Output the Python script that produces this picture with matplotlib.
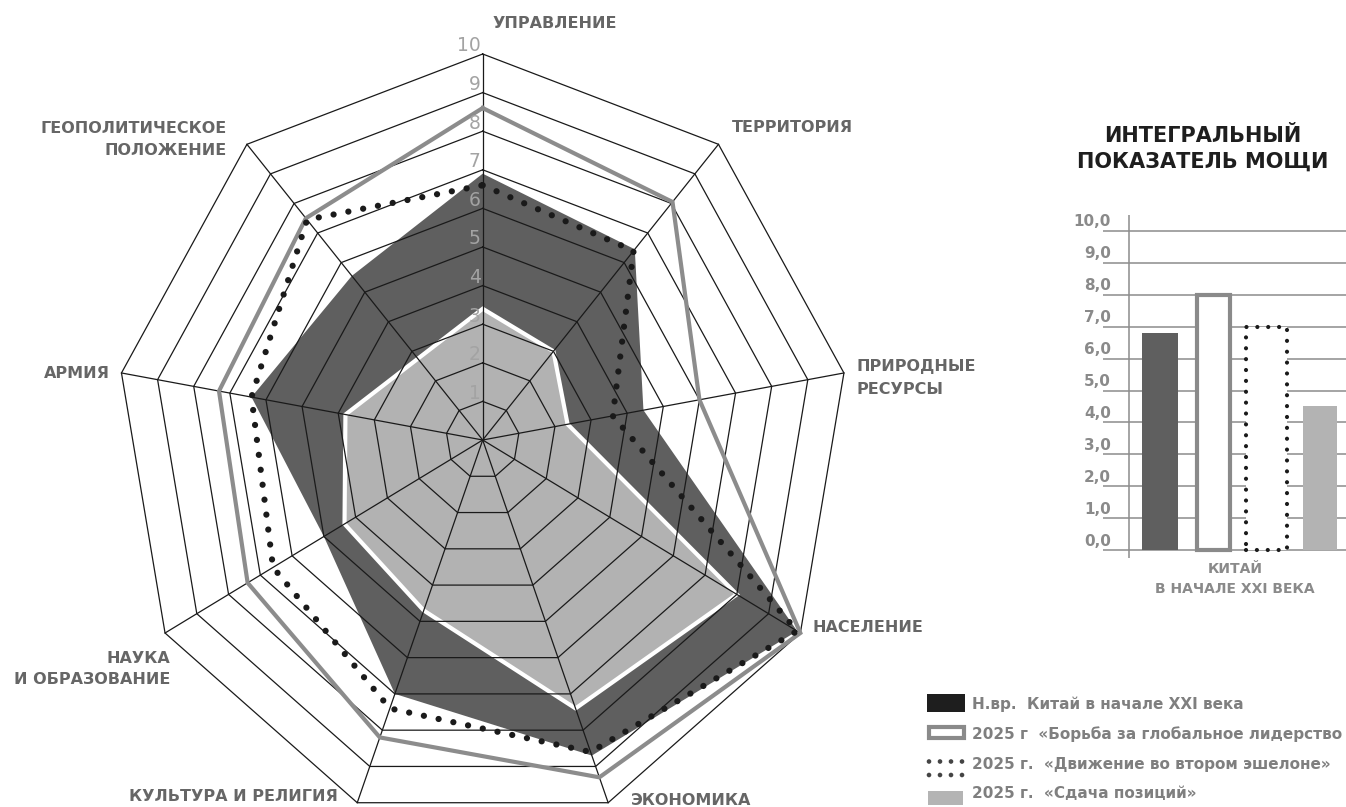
import numpy as np
import matplotlib
matplotlib.use('Agg')
import matplotlib.pyplot as plt
from matplotlib.patches import Rectangle, Circle

plt.rcParams['font.family'] = ['DejaVu Sans']

W, H = 1346, 807

# ---------------- data ----------------
categories = ['УПРАВЛЕНИЕ', 'ТЕРРИТОРИЯ', 'ПРИРОДНЫЕ\nРЕСУРСЫ', 'НАСЕЛЕНИЕ',
              'ЭКОНОМИКА', 'КУЛЬТУРА И РЕЛИГИЯ', 'НАУКА\nИ ОБРАЗОВАНИЕ',
              'АРМИЯ', 'ГЕОПОЛИТИЧЕСКОЕ\nПОЛОЖЕНИЕ']
current = [6.9, 6.45, 4.45, 9.9, 8.7, 7.0, 5.0, 6.4, 5.55]        # Н.вр.
leadership = [8.6, 8.05, 6.0, 10.0, 9.3, 8.2, 7.4, 7.3, 7.5]      # Борьба за глобальное лидерство
second_echelon = [6.6, 6.4, 3.6, 9.9, 8.6, 7.4, 6.6, 6.4, 7.45]   # Движение во втором эшелоне
surrender = [3.4, 3.0, 2.35, 8.0, 7.4, 4.7, 4.35, 3.8, 2.75]      # Сдача позиций
ring_levels = list(range(1, 11))
ring_labels = [str(v) for v in ring_levels]

series_names = ['Н.вр.  Китай в начале XXI века',
                '2025 г  «Борьба за глобальное лидерство',
                '2025 г.  «Движение во втором эшелоне»',
                '2025 г.  «Сдача позиций»']
bar_values = [6.8, 8.0, 7.0, 4.5]
bar_ticks = list(range(0, 11))
bar_tick_labels = [f'{v},0' for v in bar_ticks]
bar_category = 'КИТАЙ\nВ НАЧАЛЕ XXI ВЕКА'
bar_title = 'ИНТЕГРАЛЬНЫЙ\nПОКАЗАТЕЛЬ МОЩИ'

# ---------------- style ----------------
C_DARK = '#5f5f5f'
C_LIGHT = '#b2b2b2'
C_LINE = '#8c8c8c'
C_DOT = '#1a1a1a'
C_GRID = '#1a1a1a'
C_LABEL = '#666666'

fig = plt.figure(figsize=(W / 100, H / 100), dpi=100)
fig.patch.set_facecolor('white')

# ---------------- radar ----------------
cx, cy = 482.7, 440.0      # centre (px from top-left)
rx, ry = 366.8, 386.0      # radius of level 10 (px)
ax = fig.add_axes([(cx - rx) / W, 1 - (cy + ry) / H, 2 * rx / W, 2 * ry / H],
                  projection='polar')
ax.set_theta_zero_location('N')
ax.set_theta_direction(-1)
ax.set_ylim(0, 10)
ax.set_aspect('auto')
ax.set_axis_off()

n = len(categories)
theta = np.linspace(0, 2 * np.pi, n, endpoint=False)
theta_c = np.append(theta, theta[0])


def closed(v):
    return np.append(v, v[0])


ax.fill(theta_c, closed(current), color=C_DARK, lw=0, zorder=1, clip_on=False)
ax.fill(theta_c, closed(surrender), fc=C_LIGHT, ec='white', lw=3,
        joinstyle='miter', zorder=2, clip_on=False)

for lvl in ring_levels:
    ax.plot(theta_c, [lvl] * (n + 1), color=C_GRID, lw=0.9, zorder=3,
            clip_on=False, solid_joinstyle='miter')
for t in theta:
    ax.plot([t, t], [0, ring_levels[-1]], color=C_GRID, lw=0.9, zorder=3,
            clip_on=False)

ax.plot(theta_c, closed(leadership), color=C_LINE, lw=3, zorder=4,
        clip_on=False, solid_joinstyle='miter')
ax.plot(theta_c, closed(second_echelon), color=C_DOT, lw=4.5,
        ls=(0, (0.01, 2.4)), dash_capstyle='round', zorder=5, clip_on=False)

for v, lab in zip(ring_levels, ring_labels):
    ax.annotate(lab, xy=(0, v), xytext=(-2, 2.5), textcoords='offset pixels',
                ha='right', va='baseline', fontsize=13.5, color='#a3a3a3',
                zorder=6, annotation_clip=False)

# ---------------- overlay (pixel coords) ----------------
lax = fig.add_axes([0, 0, 1, 1], zorder=10)
lax.set_xlim(0, W)
lax.set_ylim(H, 0)
lax.set_axis_off()
lax.patch.set_alpha(0)

lab_kw = dict(fontsize=11.5, fontweight='bold', color=C_LABEL)
# (x, baseline y, ha) per text line
label_layout = {
    0: [(493, 28, 'left')],
    1: [(732, 132, 'left')],
    2: [(857, 371, 'left'), (857, 394, 'left')],
    3: [(813, 632, 'left')],
    4: [(631, 805, 'left')],
    5: [(338, 801, 'right')],
    6: [(170, 663, 'right'), (170, 684, 'right')],
    7: [(110, 378, 'right')],
    8: [(227, 133, 'right'), (227, 155, 'right')],
}
for i, cat in enumerate(categories):
    for line, (x, y, ha) in zip(cat.split('\n'), label_layout[i]):
        lax.text(x, y, line, ha=ha, va='baseline', **lab_kw)

# legend
leg_kw = dict(fontsize=11, fontweight='bold', color='#7f7f7f', va='baseline')
leg_base = [709, 739, 769, 798]
lax.add_patch(Rectangle((927, 694), 38, 18, fc='#1e1e1e', ec='none'))
lax.add_patch(Rectangle((928.5, 726.5), 35, 11, fc='white', ec='#8a8a8a', lw=3))
for yy in (761.5, 775):
    for xx in (929, 940, 951, 962):
        lax.add_patch(Circle((xx, yy), 2.3, fc='#444444', ec='none'))
lax.add_patch(Rectangle((928, 791), 35, 14, fc='#b4b4b4', ec='none'))
for name, yb in zip(series_names, leg_base):
    lax.text(972, yb, name, **leg_kw)

# bar-chart title & category
lax.text(1203, 142, bar_title.split('\n')[0], ha='center', va='baseline',
         fontsize=15, fontweight='bold', color='#1e1e1e')
lax.text(1203, 168, bar_title.split('\n')[1], ha='center', va='baseline',
         fontsize=15, fontweight='bold', color='#1e1e1e')
lax.text(1235, 573, bar_category.split('\n')[0], ha='center', va='baseline',
         fontsize=10, fontweight='bold', color='#8a8a8a')
lax.text(1235, 593, bar_category.split('\n')[1], ha='center', va='baseline',
         fontsize=10, fontweight='bold', color='#8a8a8a')

# ---------------- bar chart ----------------
px_unit = 53.3         # px between bar centres
x0_px = 1160.0         # first bar centre
left_px, right_px = 1103.0, 1346.0
top_px, bot_px = 215.0, 558.0
bax = fig.add_axes([left_px / W, 1 - bot_px / H, (right_px - left_px) / W,
                    (bot_px - top_px) / H])
bax.set_xlim((left_px - x0_px) / px_unit, (right_px - x0_px) / px_unit)
unit_y = 31.9
bax.set_ylim(-(bot_px - 550) / unit_y, (550 - top_px) / unit_y)
bax.set_axis_off()

for v in bar_ticks:
    bax.axhline(v, color='#8c8c8c', lw=1.1, zorder=0)
axis_x = (1129 - x0_px) / px_unit
bax.axvline(axis_x, color='#8c8c8c', lw=1.1, zorder=0)
for v, lab in zip(bar_ticks, bar_tick_labels):
    bax.annotate(lab, xy=(axis_x, v), xytext=(-18, 4.5), textcoords='offset pixels',
                 ha='right', va='baseline', fontsize=11, fontweight='bold',
                 color='#8a8a8a', annotation_clip=False)

xs = np.arange(len(bar_values))
bax.bar(xs[0], bar_values[0], width=0.68, color=C_DARK, zorder=2)
bax.bar(xs[1], bar_values[1], width=0.615, fc='white', ec='#8a8a8a', lw=3,
        zorder=2)
bax.bar(xs[2], bar_values[2], width=0.77, fc='white', ec=C_DOT, lw=3,
        ls=(0, (0.01, 2.6)), capstyle='round', zorder=2)
bax.bar(xs[3], bar_values[3], width=0.64, color='#b3b3b3', zorder=2)

fig.savefig('out.png', dpi=100, facecolor='white')
